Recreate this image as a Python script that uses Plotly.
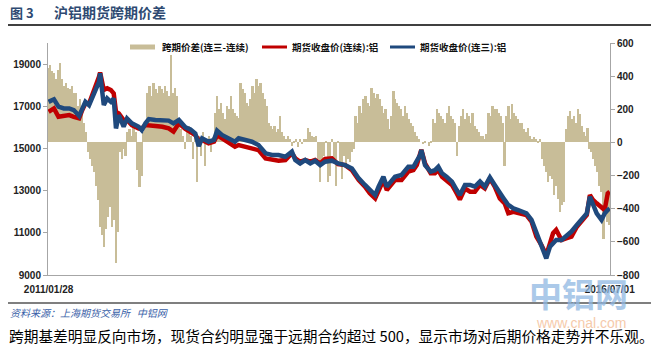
import plotly.graph_objects as go
import pandas as pd

# ---- Data ----
line_dates = [
    "2011-01-28","2011-02-16","2011-03-04","2011-03-23","2011-04-11","2011-04-27","2011-05-16","2011-05-27",
    "2011-06-07","2011-06-20","2011-07-01","2011-07-13","2011-07-25","2011-07-29","2011-08-05","2011-08-11",
    "2011-08-23","2011-09-05","2011-09-15","2011-09-23","2011-10-03","2011-10-20","2011-11-01","2011-11-18",
    "2011-12-12","2011-12-23","2012-01-05","2012-01-17","2012-02-09","2012-03-05","2012-03-27","2012-04-13",
    "2012-05-02","2012-05-25","2012-06-12","2012-06-29","2012-07-11","2012-07-23","2012-08-15","2012-09-03",
    "2012-09-14","2012-10-01","2012-10-25","2012-11-16","2012-11-29","2012-12-21","2013-01-15","2013-02-07",
    "2013-03-04","2013-03-27","2013-04-19","2013-05-13","2013-06-05","2013-06-17","2013-07-04","2013-07-22",
    "2013-08-09","2013-08-26","2013-09-13","2013-09-30","2013-10-24","2013-11-15","2013-12-10","2014-01-03",
    "2014-01-27","2014-02-18","2014-03-07","2014-03-26","2014-04-07","2014-04-24","2014-05-06","2014-05-19",
    "2014-06-04","2014-06-27","2014-07-21","2014-08-08","2014-08-20","2014-09-01","2014-09-05","2014-09-18",
    "2014-10-08","2014-10-23","2014-11-04","2014-11-17","2014-12-03","2014-12-22","2015-01-08","2015-01-19",
    "2015-02-06","2015-02-24","2015-03-13","2015-03-31","2015-04-17","2015-05-05","2015-05-22","2015-06-09",
    "2015-06-26","2015-07-09","2015-07-27","2015-08-13","2015-08-31","2015-09-11","2015-09-29","2015-10-16",
    "2015-11-03","2015-11-20","2015-12-03","2015-12-14","2015-12-25","2016-01-13","2016-01-29","2016-02-17",
    "2016-03-07","2016-03-23","2016-04-11","2016-04-22","2016-05-03","2016-05-16","2016-06-02","2016-06-13",
    "2016-06-24","2016-07-01",
]

price_continuous = [  # 期货收盘价(连续):铝  (red)
    16740,16900,16500,16520,16580,16500,16430,16820,
    17130,17130,17530,17850,18400,18600,18100,17770,
    17850,17770,17610,16740,16660,16350,16350,16100,
    15950,15950,16110,16110,16060,16030,15950,15800,
    16190,15920,15780,15630,15400,15400,15240,15320,
    15630,15480,15240,15080,15160,15080,15000,14920,
    14530,14450,14420,14450,14770,14530,14370,14450,
    14370,14450,14290,14500,14530,14260,14210,13970,
    13500,13190,12870,12630,12950,13500,13030,13270,
    13500,13500,13900,13970,14210,14770,14930,14290,
    13820,13820,13970,13660,13500,13270,12870,12580,
    13100,12950,12950,13270,13110,13580,13190,12630,
    12400,11930,12000,11930,11840,11840,11530,10820,
    10420,9950,10500,10980,11140,10660,10740,10820,
    11290,11530,11840,12790,12560,12400,12240,12080,
    12870,12950,
]

price_third = [  # 期货收盘价(连三):铝  (blue)
    17210,17330,16980,16900,16900,16820,16540,16900,
    17210,17050,17370,17770,18160,18560,17940,17060,
    17370,17210,17370,15950,16580,16030,16420,16190,
    16030,15870,16190,16390,16350,16320,16320,16190,
    16350,16000,15900,15710,15110,15480,15320,15400,
    15840,15640,15480,15320,15480,15400,15320,15160,
    14770,14690,14690,14610,14850,14450,14290,14450,
    14290,14420,14210,14370,14420,14290,14210,14050,
    13580,13270,13030,12790,13190,13660,13190,13420,
    13660,13740,14130,14130,14370,14690,14930,14210,
    13900,13970,14130,13820,13660,13430,13030,12790,
    13270,13270,13190,13430,13190,13630,13270,12870,
    12560,12320,12160,12080,12000,11920,11610,10980,
    10340,9790,10340,10500,10660,10660,10820,11060,
    11370,11610,11920,12710,12400,11920,11610,11920,
    12080,12160,
]

spread_start = "2011-01-28"
spread = [  # 跨期价差(连三-连续), weekly
    450, 470, 430, 420, 380, 440, 480, 380, 340, 360,
    330, 320, 340, 300, 300, 220, 260, 200, 120, 60,
    -60, -100, -140, -180, -260, -350, -510, -560, -630, -520,
    -450, -390, -510, -470, -730, -540, -60, -100, -40, -80,
    60, 80, 40, 100, 60, -165, -270, -200, 60, 120,
    300, 340, 280, 360, 320, 300, 340, 320, 300, 340,
    310, 280, 530, 300, 330, 280, 120, 80, 40, -40,
    60, 100, 40, -100, 40, -240, 40, -80, 60, -140,
    20, 40, -60, 30, 180, 280, 200, 240, 180, 140,
    220, 200, 280, 200, 180, 160, 150, 360, 320, 300,
    240, 220, 260, 340, 300, 380, 340, 360, 300, 260,
    220, 120, 100, 80, 100, 60, 80, 160, 60, 40,
    20, 40, 20, -20, 10, 20, -30, 20, -10, 20,
    20, 90, 60, 40, 30, 40, -100, -240, -120, -80,
    10, -240, -200, 20, -100, -260, 10, -120, -220, -80,
    -140, -100, -120, -60, -40, 160, 120, 220, 180, 260,
    280, 240, 220, 330, 300, 270, 290, 260, 220, 180,
    200, 140, 80, 160, 310, 260, 240, 220, 200, 160,
    220, 180, 140, 120, 100, 60, 40, 20, 0, -10,
    10, 0, -20, 10, 140, 120, 200, 180, 160, 140,
    120, 180, 220, 160, 140, 120, -80, 100, 160, 200,
    140, 180, 160, 120, 180, 100, 80, 60, 40, 40,
    20, 50, 180, 160, 220, 200, 200, 180, 160, 120,
    -140, 160, 220, 140, 230, 180, 160, 140, 120, 120,
    80, 60, 90, 40, 20, 30, 20, 10, 20, -100,
    -140, -180, -240, -200, -220, -320, -260, -340, -420, -380,
    -360, 80, 160, 190, 140, 160, 120, 200, 170, 100,
    60, 40, 90, -40, -60, -100, -140, -180, -260, -300,
    -580, -420, -480, -500,
]
spread_dates = pd.date_range(start=spread_start, periods=len(spread), freq="7D")

x_tick_vals = ["2011-01-28", "2016-07-01"]
x_tick_text = ["2011/01/28", "2016/07/01"]
left_ticks = [9000, 11000, 13000, 15000, 17000, 19000]
right_ticks = [-800, -600, -400, -200, 0, 200, 400, 600]

series_names = ["跨期价差(连三-连续)", "期货收盘价(连续):铝", "期货收盘价(连三):铝"]

# ---- Styles ----
TAN = "#c8bd98"
RED = "#c00000"
BLUE = "#1f497d"
AXIS = "#a6a6a6"
NUMFONT = dict(family="Liberation Sans, Arial, sans-serif", size=10, color="#222222", weight="bold")
CJK = "Noto Sans CJK SC, sans-serif"

fig = go.Figure()
fig.add_trace(go.Bar(x=spread_dates, y=spread, name=series_names[0], marker_color=TAN,
                     marker_line_width=0, width=6.5 * 86400000, yaxis="y", showlegend=False))
fig.add_trace(go.Scatter(x=pd.to_datetime(line_dates), y=price_continuous, name=series_names[1],
                         mode="lines", line=dict(color=RED, width=4.5), yaxis="y2", showlegend=False))
fig.add_trace(go.Scatter(x=pd.to_datetime(line_dates), y=price_third, name=series_names[2],
                         mode="lines", line=dict(color=BLUE, width=4.5), yaxis="y2", showlegend=False))

L, R, T, B = 48, 49, 43, 77
W, H = 659, 352
PW, PH = W - L - R, H - T - B


def px(xp):
    return (xp - L) / PW


def py(yp):
    return (H - B - yp) / PH


shapes = []
annotations = []

# legend (manual)
leg_y = py(47)
for (x0, x1, tx, col, w, name) in [
    (130, 155, 160, TAN, 5, series_names[0]),
    (262, 287, 290, RED, 3, series_names[1]),
    (390, 415, 418, BLUE, 3, series_names[2]),
]:
    shapes.append(dict(type="line", xref="paper", yref="paper", x0=px(x0), x1=px(x1), y0=leg_y, y1=leg_y,
                       line=dict(color=col, width=w)))
    annotations.append(dict(xref="paper", yref="paper", x=px(tx), y=leg_y, text=name, showarrow=False,
                            xanchor="left", yanchor="middle",
                            font=dict(family=CJK, size=9.5, color="#111111", weight="bold")))

# title and rules
annotations.append(dict(xref="paper", yref="paper", x=px(8), y=py(12), text="图 3", showarrow=False,
                        xanchor="left", yanchor="middle",
                        font=dict(family=CJK, size=13, color="#2e4a72", weight="bold")))
annotations.append(dict(xref="paper", yref="paper", x=px(52), y=py(12), text="沪铝期货跨期价差", showarrow=False,
                        xanchor="left", yanchor="middle",
                        font=dict(family=CJK, size=14, color="#2e4a72", weight="bold")))
shapes.append(dict(type="line", xref="paper", yref="paper", x0=px(8), x1=px(651), y0=py(25), y1=py(25),
                   line=dict(color="#000000", width=1.5)))
shapes.append(dict(type="line", xref="paper", yref="paper", x0=px(8), x1=px(651), y0=py(303), y1=py(303),
                   line=dict(color="#000000", width=1.2)))

# watermark
annotations.append(dict(xref="paper", yref="paper", x=px(578), y=py(293), text="中铝网", showarrow=False,
                        xanchor="center", yanchor="middle", opacity=0.75,
                        font=dict(family=CJK, size=33, color="#8fb8e2", weight="bold")))
annotations.append(dict(xref="paper", yref="paper", x=px(581), y=py(323), text="www.cnal.com", showarrow=False,
                        xanchor="center", yanchor="middle", opacity=0.75,
                        font=dict(family="Liberation Sans, Arial", size=14, color="#f3b98f")))

# source and caption
annotations.append(dict(xref="paper", yref="paper", x=px(8), y=py(312), text="资料来源：上海期货交易所   中铝网",
                        showarrow=False, xanchor="left", yanchor="middle",
                        font=dict(family=CJK, size=10, color="#3a5fa8", style="italic")))
annotations.append(dict(xref="paper", yref="paper", x=px(7), y=py(335),
                        text="跨期基差明显反向市场，现货合约明显强于远期合约超过 500，显示市场对后期价格走势并不乐观。",
                        showarrow=False, xanchor="left", yanchor="middle",
                        font=dict(family=CJK, size=14.7, color="#000000")))

fig.update_layout(
    width=W, height=H,
    margin=dict(l=L, r=R, t=T, b=B, pad=0),
    paper_bgcolor="white", plot_bgcolor="white",
    showlegend=False,
    bargap=0,
    font=dict(family="Liberation Sans, " + CJK),
    xaxis=dict(type="date", range=["2011-01-26", "2016-07-02"], showgrid=False, zeroline=False,
               showline=True, linecolor=AXIS, linewidth=1, ticks="", ticklabelstandoff=5,
               tickvals=pd.to_datetime(x_tick_vals), ticktext=x_tick_text, tickfont=NUMFONT),
    yaxis=dict(side="right", range=[-800, 600], tickvals=right_ticks, showgrid=False, zeroline=False,
               showline=True, linecolor=AXIS, linewidth=1, ticks="outside", ticklen=4, tickcolor=AXIS,
               tickformat="d", tickfont=NUMFONT),
    yaxis2=dict(side="left", overlaying="y", range=[9000, 20000], tickvals=left_ticks, showgrid=False,
                zeroline=False, showline=True, linecolor=AXIS, linewidth=1, ticks="outside", ticklen=4,
                tickcolor=AXIS, tickformat="d", tickfont=NUMFONT),
    shapes=shapes,
    annotations=annotations,
)

fig.write_html("out.html")
